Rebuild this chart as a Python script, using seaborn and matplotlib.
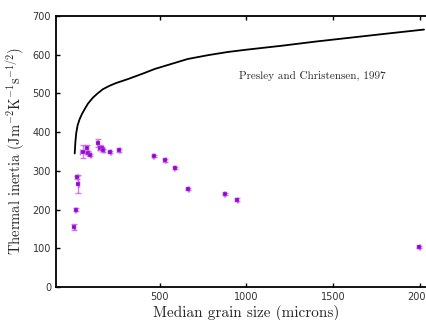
import matplotlib
matplotlib.use("Agg")
import matplotlib.pyplot as plt
import seaborn as sns
import pandas as pd

# Presley and Christensen (1997) relation
curve_size = [8, 12, 17, 25, 36, 50, 65, 85, 113, 140, 171, 210, 248, 315, 400,
              469, 550, 661, 780, 891, 1000, 1200, 1400, 1600, 1800, 2025]
curve_ti = [345, 375, 398, 418, 433, 447, 459, 474, 489, 500, 511, 520, 527, 537, 551,
            563, 574, 589, 599, 607, 613, 623, 634, 644, 654, 665]

# Measurements
grain = [5, 13, 23, 28, 54, 77, 86, 98, 140, 152, 165, 173, 213, 265,
         463, 531, 585, 665, 875, 948, 1998]
ti = [155, 200, 283, 267, 350, 358, 347, 341, 372, 360, 358, 353, 349, 353,
      338, 327, 308, 254, 240, 226, 104]
ti_err = [9, 3, 4, 23, 16, 8, 4, 3, 11, 6, 4, 3, 3, 3,
          3, 3, 3, 3, 3, 3, 3]
grain_err = [3, 2, 2, 2, 13, 10, 5, 3, 3, 10, 8, 3, 3, 3,
             3, 3, 3, 3, 3, 3, 3]

xticks = [500, 1000, 1500, 2000]
yticks = [0, 100, 200, 300, 400, 500, 600, 700]

sns.set_style("ticks")
plt.rcParams['mathtext.fontset'] = 'cm'

fig = plt.figure(figsize=(4.27, 3.2), dpi=100)
ax = fig.add_axes([56/427, 1-287/320, 381/427, (287-16)/320])

df_curve = pd.DataFrame({"size": curve_size, "ti": curve_ti})
df_pts = pd.DataFrame({"size": grain, "ti": ti})

sns.lineplot(data=df_curve, x="size", y="ti", ax=ax, color="black", linewidth=1.3)
ax.errorbar(grain, ti, yerr=ti_err, xerr=grain_err, fmt="none", ecolor="#b94be0",
            elinewidth=1.0, capsize=2, capthick=1.0, alpha=0.7, zorder=2)
sns.scatterplot(data=df_pts, x="size", y="ti", ax=ax, marker="s", s=8,
                color="#9400d3", edgecolor="#c77ee8", linewidth=0.3, zorder=3)

ax.text(954, 545, "Presley and Christensen, 1997", fontsize=8, family="cmr10",
        va="center", ha="left")

ax.set_xlim(-100, 2100)
ax.set_ylim(0, 700)
ax.set_xticks(xticks)
ax.set_yticks(yticks)
ax.tick_params(direction="in", top=True, right=True, labelsize=7, length=3,
               width=1, colors="black", labelcolor="#333333")
for s in ax.spines.values():
    s.set_linewidth(1.3)
    s.set_color("black")
    s.set_visible(True)

ax.set_xlabel("Median grain size (microns)", fontsize=11, family="cmr10", labelpad=2)
ax.set_ylabel(r"Thermal inertia (Jm$^{\mathrm{-2}}$K$^{\mathrm{-1}}$s$^{\mathrm{-1/2}}$)",
              fontsize=10.5, family="cmr10", labelpad=4)

fig.savefig("out.png", dpi=100)
